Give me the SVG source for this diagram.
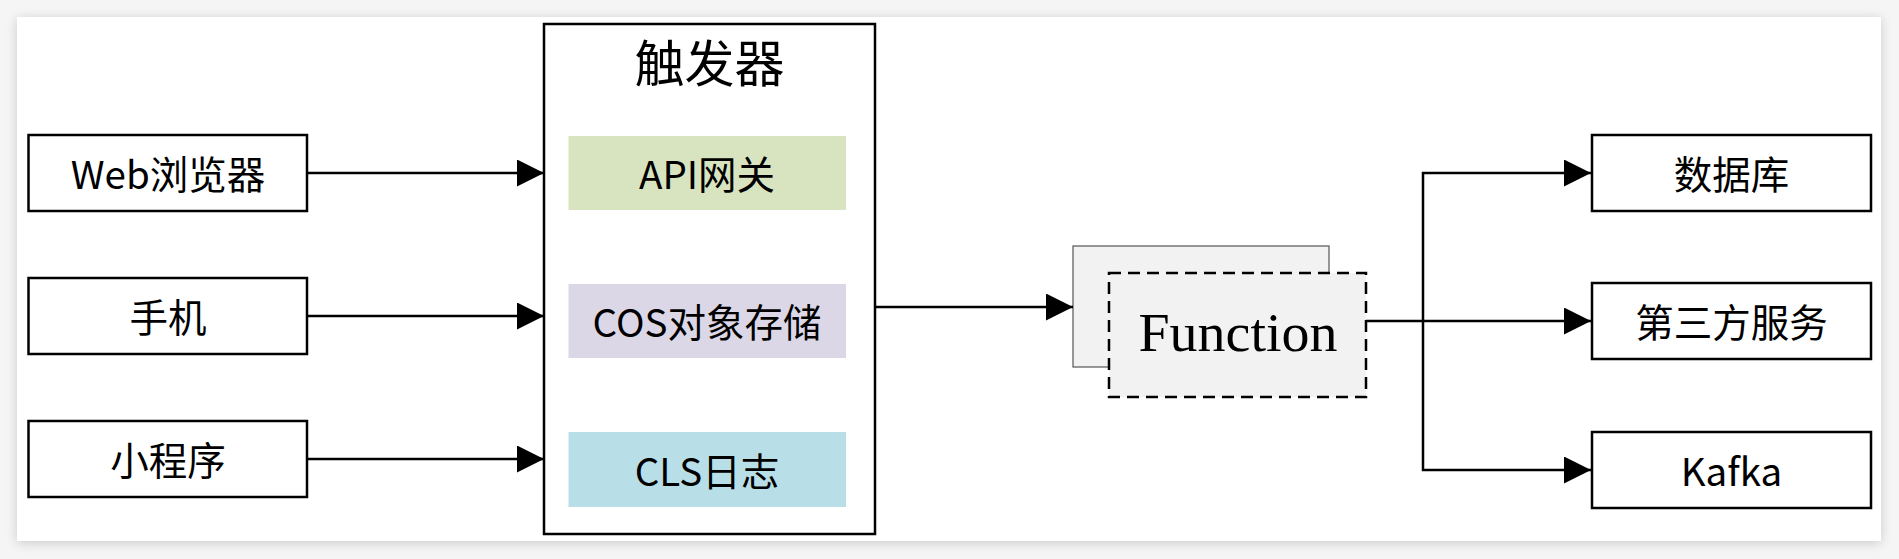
<svg xmlns="http://www.w3.org/2000/svg" width="1899" height="559" viewBox="0 0 1899 559">
  <defs>
    <filter id="shadow" x="-5%" y="-10%" width="110%" height="120%">
      <feGaussianBlur in="SourceAlpha" stdDeviation="6"/>
      <feOffset dx="0" dy="2" result="b"/>
      <feComponentTransfer><feFuncA type="linear" slope="0.18"/></feComponentTransfer>
      <feMerge><feMergeNode/><feMergeNode in="SourceGraphic"/></feMerge>
    </filter>
    <marker id="arrow" viewBox="0 0 27 27" refX="27" refY="13.5" markerWidth="27" markerHeight="27" markerUnits="userSpaceOnUse" orient="auto">
      <path d="M0,0 L27,13.5 L0,27 Z" fill="#000"/>
    </marker>
  </defs>
  <style>
    .box { fill: #ffffff; stroke: #000; stroke-width: 2.5; }
    .lbl { font-family: "Noto Sans CJK SC", "Noto Sans", sans-serif; font-size: 38.5px; fill: #000; text-anchor: middle; dominant-baseline: central; }
    .title { font-size: 50px; }
    .conn { fill: none; stroke: #000; stroke-width: 2.5; }
    .fn { font-family: "Liberation Serif", serif; font-size: 54px; fill: #000; text-anchor: middle; }
  </style>
  <rect x="0" y="0" width="1899" height="559" fill="#f5f5f5"/>
  <rect x="17" y="17" width="1864" height="524" fill="#ffffff" filter="url(#shadow)"/>

  <g id="web">
    <rect class="box" x="28.5" y="135" width="278.5" height="76"/>
    <text class="lbl" x="168" y="172">Web浏览器</text>
  </g>
  <g id="phone">
    <rect class="box" x="28.5" y="278" width="278.5" height="76"/>
    <text class="lbl" x="168" y="315">手机</text>
  </g>
  <g id="miniprogram">
    <rect class="box" x="28.5" y="421" width="278.5" height="76"/>
    <text class="lbl" x="168" y="458">小程序</text>
  </g>

  <g id="trigger">
    <rect class="box" x="544" y="24" width="331" height="510"/>
    <text class="lbl title" x="709.5" y="60">触发器</text>
  </g>
  <g id="api">
    <rect x="568.5" y="136" width="277.5" height="74" fill="#d8e4bf"/>
    <text class="lbl" x="707" y="172">API网关</text>
  </g>
  <g id="cos">
    <rect x="568.5" y="284" width="277.5" height="74" fill="#dcd7e6"/>
    <text class="lbl" x="707" y="320">COS对象存储</text>
  </g>
  <g id="cls">
    <rect x="568.5" y="432" width="277.5" height="75" fill="#b8dee8"/>
    <text class="lbl" x="707" y="468.5">CLS日志</text>
  </g>

  <g id="function">
    <rect x="1073" y="246" width="256" height="121" fill="#f2f2f2" stroke="#555" stroke-width="1.2"/>
    <rect x="1109" y="273" width="257" height="124" fill="#f2f2f2" stroke="#000" stroke-width="2.5" stroke-dasharray="12,7"/>
    <text class="fn" x="1238" y="351" textLength="199" lengthAdjust="spacingAndGlyphs">Function</text>
  </g>

  <g id="database">
    <rect class="box" x="1592" y="135" width="279" height="76"/>
    <text class="lbl" x="1731.5" y="172">数据库</text>
  </g>
  <g id="thirdparty">
    <rect class="box" x="1592" y="283" width="279" height="76"/>
    <text class="lbl" x="1731.5" y="320">第三方服务</text>
  </g>
  <g id="kafka">
    <rect class="box" x="1592" y="432" width="279" height="76"/>
    <text class="lbl" x="1731.5" y="469">Kafka</text>
  </g>

  <g id="connectors">
    <path class="conn" d="M307,173 H544" marker-end="url(#arrow)"/>
    <path class="conn" d="M307,316 H544" marker-end="url(#arrow)"/>
    <path class="conn" d="M307,459 H544" marker-end="url(#arrow)"/>
    <path class="conn" d="M875,307 H1073" marker-end="url(#arrow)"/>
    <path class="conn" d="M1366,321 H1591" marker-end="url(#arrow)"/>
    <path class="conn" d="M1423,321 V173 H1591" marker-end="url(#arrow)"/>
    <path class="conn" d="M1423,321 V470 H1591" marker-end="url(#arrow)"/>
  </g>
</svg>
